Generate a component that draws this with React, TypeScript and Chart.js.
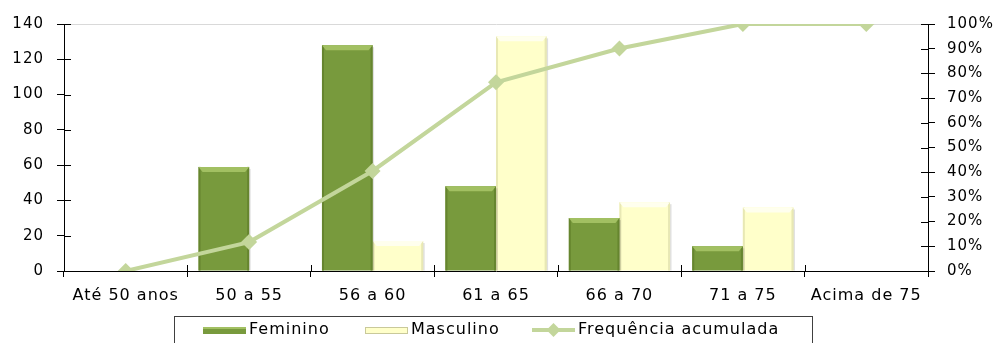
import React, { useEffect, useRef } from 'react';
import { Chart, registerables } from 'chart.js';

Chart.register(...registerables);

const categories = ['Até 50 anos', '50 a 55', '56 a 60', '61 a 65', '66 a 70', '71 a 75', 'Acima de 75'];
const feminino = [0, 59, 128, 48, 30, 14, 0];
const masculino = [0, 0, 17, 133, 39, 36, 0];
const acumulada = [0, 11.7, 40.5, 76.4, 90.1, 100, 100];
const seriesNames = ['Feminino', 'Masculino', 'Frequência acumulada'];
const leftMax = 140;
const leftStep = 20;
const rightMax = 100;
const rightStep = 10;

const GREEN = '#789A3D';
const GREEN_EDGE = '#66852F';
const GREEN_TOP = '#A2C062';
const YELLOW = '#FFFFCA';
const YELLOW_EDGE = '#E8E8B4';
const YELLOW_TOP = '#FFFFEE';
const LINE = '#C3D69B';
const FONT = 'DejaVu Sans';

const spacingPlugin = {
  id: 'spacing',
  beforeLayout(chart: any) { chart.ctx.letterSpacing = '1px'; },
  beforeDraw(chart: any) { chart.ctx.letterSpacing = '1px'; },
};

const bevelPlugin = {
  id: 'bevel',
  afterDatasetDraw(chart: any, args: any) {
    if (args.index > 1) return;
    const ctx = chart.ctx;
    const edge = args.index === 0 ? GREEN_EDGE : YELLOW_EDGE;
    const top = args.index === 0 ? GREEN_TOP : YELLOW_TOP;
    args.meta.data.forEach((el: any) => {
      const p = el.getProps(['x', 'y', 'base', 'width'], true);
      const h = p.base - p.y;
      if (h < 1) return;
      const l = p.x - p.width / 2;
      const r = p.x + p.width / 2;
      ctx.save();
      ctx.fillStyle = edge;
      ctx.fillRect(l, p.y, 2, h);
      ctx.fillRect(r - 2, p.y, 2, h);
      const b = Math.min(5, h);
      ctx.beginPath();
      ctx.moveTo(l, p.y);
      ctx.lineTo(r, p.y);
      ctx.lineTo(r - 4, p.y + b);
      ctx.lineTo(l + 4, p.y + b);
      ctx.closePath();
      ctx.fillStyle = top;
      ctx.fill();
      ctx.fillStyle = 'rgba(0,0,0,0.12)';
      ctx.fillRect(r, p.y + 2, 1.5, h - 2);
      ctx.restore();
    });
  },
};

const innerTicksPlugin = {
  id: 'innerTicks',
  beforeDatasetsDraw(chart: any) {
    const ctx = chart.ctx;
    const { y, y1, x } = chart.scales;
    const area = chart.chartArea;
    ctx.save();
    ctx.strokeStyle = '#000';
    ctx.lineWidth = 1;
    ctx.beginPath();
    y.ticks.forEach((t: any) => {
      const py = Math.round(y.getPixelForValue(t.value)) + 0.5;
      ctx.moveTo(area.left, py);
      ctx.lineTo(area.left + 7, py);
    });
    y1.ticks.forEach((t: any) => {
      const py = Math.round(y1.getPixelForValue(t.value)) + 0.5;
      ctx.moveTo(area.right - 7, py);
      ctx.lineTo(area.right, py);
    });
    const n = categories.length;
    for (let i = 0; i <= n; i++) {
      const px = Math.round(area.left + (area.right - area.left) * i / n) + 0.5;
      ctx.moveTo(px, area.bottom);
      ctx.lineTo(px, area.bottom - 6);
    }
    ctx.stroke();
    ctx.restore();
  },
};

const legendPlugin = {
  id: 'customLegend',
  afterDraw(chart: any) {
    const ctx = chart.ctx;
    ctx.save();
    ctx.letterSpacing = '1px';
    ctx.strokeStyle = '#404040';
    ctx.lineWidth = 1;
    ctx.strokeRect(174.5, 316.5, 638, 40);
    ctx.font = `16px "${FONT}"`;
    ctx.fillStyle = '#000';
    ctx.textBaseline = 'middle';
    const cy = 330;
    // Feminino
    ctx.fillStyle = GREEN;
    ctx.fillRect(203, cy - 3, 43, 7);
    ctx.fillStyle = GREEN_TOP;
    ctx.fillRect(203, cy - 3, 43, 2);
    ctx.fillStyle = '#000';
    ctx.fillText(seriesNames[0], 249, cy);
    // Masculino
    ctx.fillStyle = YELLOW;
    ctx.fillRect(365, cy - 3, 43, 7);
    ctx.strokeStyle = '#C9C99A';
    ctx.strokeRect(365.5, cy - 2.5, 42, 6);
    ctx.fillStyle = '#000';
    ctx.fillText(seriesNames[1], 411, cy);
    // Line
    ctx.strokeStyle = LINE;
    ctx.lineWidth = 4;
    ctx.beginPath();
    ctx.moveTo(532, cy);
    ctx.lineTo(575, cy);
    ctx.stroke();
    ctx.fillStyle = LINE;
    ctx.beginPath();
    ctx.moveTo(553.5, cy - 7);
    ctx.lineTo(560.5, cy);
    ctx.lineTo(553.5, cy + 7);
    ctx.lineTo(546.5, cy);
    ctx.closePath();
    ctx.fill();
    ctx.fillStyle = '#000';
    ctx.fillText(seriesNames[2], 578, cy);
    ctx.restore();
  },
};

export default function App() {
  const ref = useRef<HTMLCanvasElement>(null);
  useEffect(() => {
    document.body.style.margin = '0';
    const chart = new Chart(ref.current as HTMLCanvasElement, {
      type: 'bar',
      data: {
        labels: categories,
        datasets: [
          {
            type: 'bar',
            label: seriesNames[0],
            data: feminino,
            backgroundColor: GREEN,
            borderWidth: 0,
            yAxisID: 'y',
            order: 1,
            categoryPercentage: 0.82,
            barPercentage: 1.0,
          },
          {
            type: 'bar',
            label: seriesNames[1],
            data: masculino,
            backgroundColor: YELLOW,
            borderWidth: 0,
            yAxisID: 'y',
            order: 1,
            categoryPercentage: 0.82,
            barPercentage: 1.0,
          },
          {
            type: 'line',
            label: seriesNames[2],
            data: acumulada,
            borderColor: LINE,
            backgroundColor: LINE,
            borderWidth: 4,
            pointStyle: 'rectRot',
            pointRadius: 8,
            pointBackgroundColor: LINE,
            pointBorderWidth: 0,
            tension: 0,
            yAxisID: 'y1',
            order: 0,
          } as any,
        ],
      },
      options: {
        responsive: false,
        animation: false,
        devicePixelRatio: 1,
        layout: { padding: { top: 24, left: 0, right: 0, bottom: 0 } },
        plugins: { legend: { display: false }, tooltip: { enabled: false } },
        scales: {
          x: {
            offset: true,
            grid: { offset: true, drawOnChartArea: false, tickLength: 6, tickColor: '#000', color: '#000' },
            border: { color: '#000', width: 1 },
            ticks: { color: '#000', font: { family: FONT, size: 16 }, padding: 9, maxRotation: 0, autoSkip: false },
            afterFit: (s: any) => { s.height = 72; },
          },
          y: {
            position: 'left',
            min: 0,
            max: leftMax,
            grid: {
              color: (c: any) => (c.tick && c.tick.value === leftMax ? '#D9D9D9' : 'rgba(0,0,0,0)'),
              tickColor: '#000',
              tickLength: 7,
            },
            border: { color: '#000', width: 1 },
            ticks: { stepSize: leftStep, color: '#000', font: { family: FONT, size: 15 }, padding: 13 },
            afterFit: (s: any) => { s.width = 64; },
          },
          y1: {
            position: 'right',
            min: 0,
            max: rightMax,
            grid: { drawOnChartArea: false, tickColor: '#000', tickLength: 7 },
            border: { color: '#000', width: 1 },
            ticks: {
              stepSize: rightStep,
              color: '#000',
              font: { family: FONT, size: 15 },
              padding: 12,
              callback: (v: any) => v + '%',
            },
            afterFit: (s: any) => { s.width = 74; },
          },
        },
      } as any,
      plugins: [spacingPlugin, innerTicksPlugin, bevelPlugin, legendPlugin],
    });
    return () => chart.destroy();
  }, []);
  return (
    <div style={{ position: 'absolute', left: 0, top: 0, width: 1002, height: 343, background: '#fff' }}>
      <canvas ref={ref} width={1002} height={343} />
    </div>
  );
}
